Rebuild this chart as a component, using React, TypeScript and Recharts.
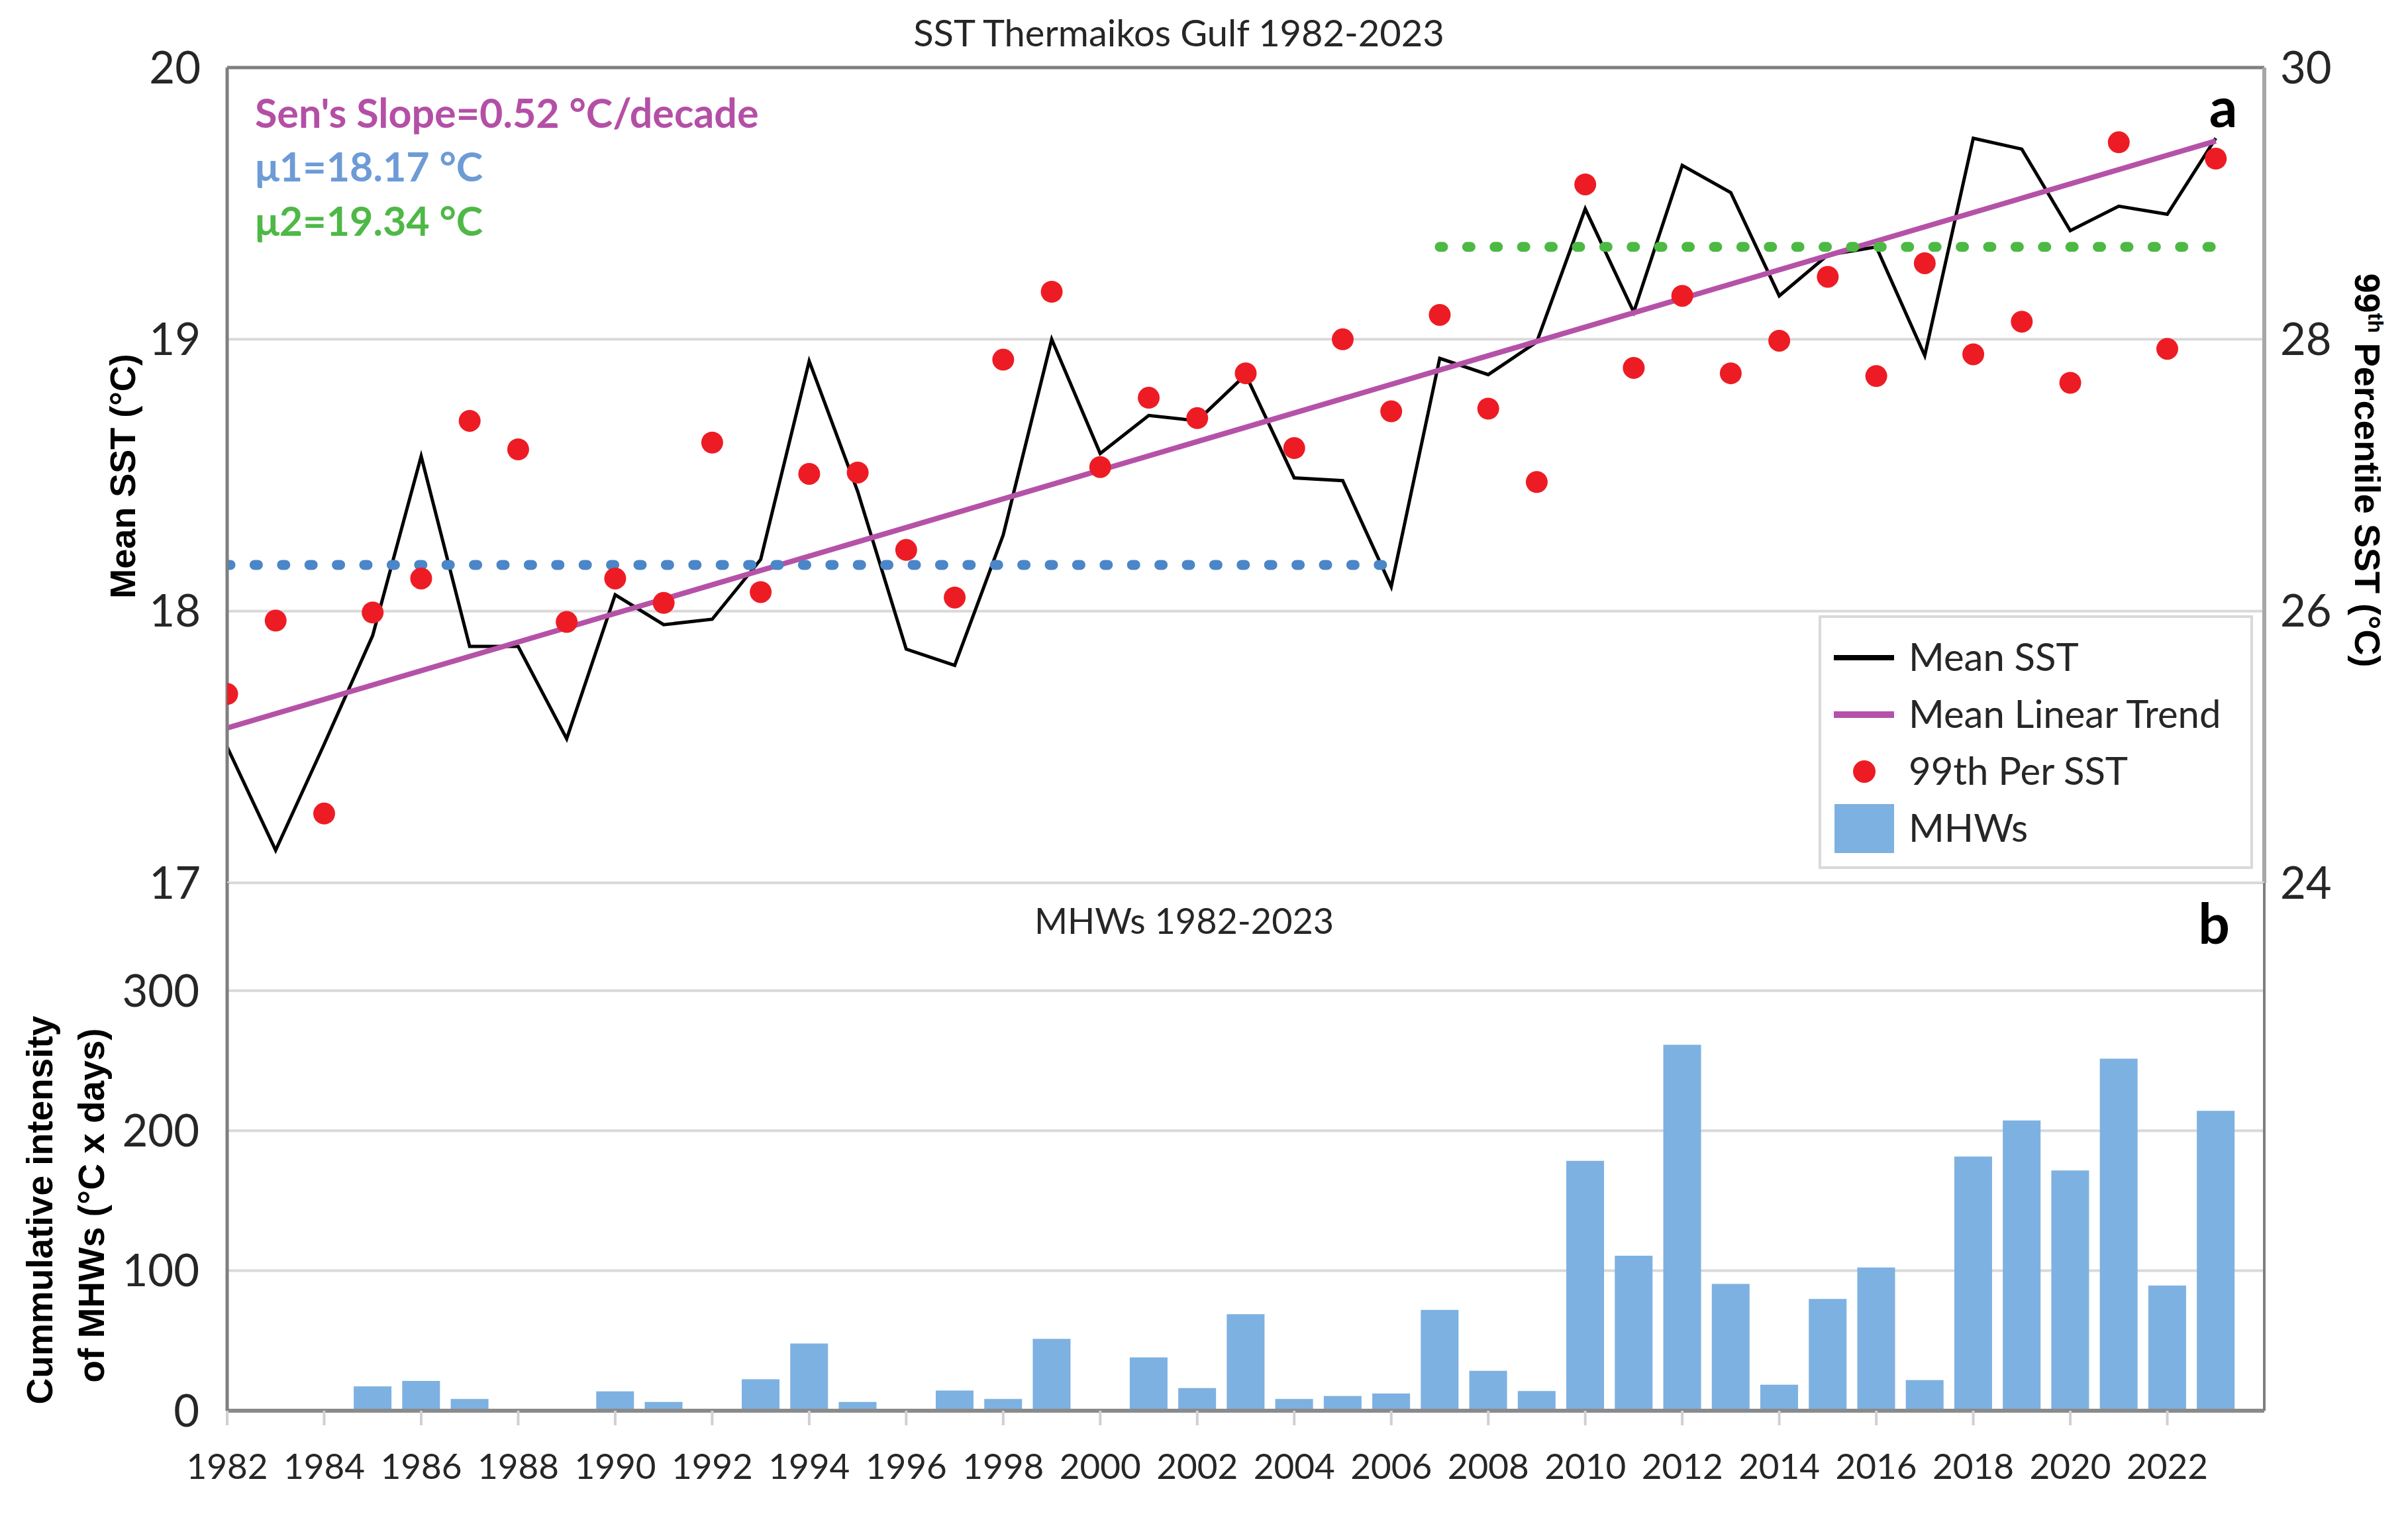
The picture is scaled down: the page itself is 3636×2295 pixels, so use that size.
import React from "react";
import { ComposedChart, Line, Bar, XAxis, YAxis, CartesianGrid, ReferenceLine } from "recharts";

// years on the x axis
const years = [
  1982, 1983, 1984, 1985, 1986, 1987, 1988, 1989, 1990, 1991, 1992, 1993, 1994, 1995,
  1996, 1997, 1998, 1999, 2000, 2001, 2002, 2003, 2004, 2005, 2006, 2007, 2008, 2009,
  2010, 2011, 2012, 2013, 2014, 2015, 2016, 2017, 2018, 2019, 2020, 2021, 2022, 2023,
];

// panel a: mean SST (left axis, °C)
const meanSst = [
  17.5, 17.12, 17.51, 17.91, 18.57, 17.87, 17.87, 17.53, 18.06, 17.95, 17.97, 18.19, 18.92, 18.44,
  17.86, 17.8, 18.28, 19.0, 18.58, 18.72, 18.7, 18.87, 18.49, 18.48, 18.09, 18.93, 18.87, 18.99,
  19.48, 19.1, 19.64, 19.54, 19.16, 19.31, 19.34, 18.94, 19.74, 19.7, 19.4, 19.49, 19.46, 19.74,
];

// panel a: 99th percentile SST (right axis, °C)
const p99Sst = [
  25.39, 25.93, 24.51, 25.99, 26.24, 27.4, 27.19, 25.92, 26.24, 26.06, 27.24, 26.14, 27.01, 27.02,
  26.45, 26.1, 27.85, 28.35, 27.06, 27.57, 27.42, 27.75, 27.2, 28.0, 27.47, 28.18, 27.49, 26.95,
  29.14, 27.79, 28.32, 27.75, 27.99, 28.46, 27.73, 28.56, 27.89, 28.13, 27.68, 29.45, 27.93, 29.33,
];

// panel b: cumulative MHW intensity (°C x days)
const mhwIntensity = [
  0, 0, 0, 17.4, 21.3, 8.4, 0, 0, 13.8, 6.3, 0, 22.5, 48, 6.3,
  0, 14.4, 8.4, 51.3, 0, 38.1, 16.2, 69, 8.4, 10.5, 12.3, 72, 28.5, 14.1,
  178.5, 110.7, 261.3, 90.6, 18.6, 79.8, 102.3, 21.9, 181.5, 207.3, 171.6, 251.4, 89.4, 214.2,
];

// linear trend end points
const trendYears = [1982, 2023];
const trendValues = [17.57, 19.73];

// period means
const mu1Years = [1982, 2006];
const mu1Value = 18.17;
const mu2Years = [2007, 2023];
const mu2Value = 19.34;

// ticks
const gridYears = [1982, 1984, 1986, 1988, 1990, 1992, 1994, 1996, 1998, 2000, 2002, 2004, 2006, 2008, 2010, 2012, 2014, 2016, 2018, 2020, 2022, 2024];
const labelYears = [1982, 1984, 1986, 1988, 1990, 1992, 1994, 1996, 1998, 2000, 2002, 2004, 2006, 2008, 2010, 2012, 2014, 2016, 2018, 2020, 2022];
const meanTicks = [17, 18, 19, 20];
const meanMinorTicks = [17.5, 18.5, 19.5];
const p99Ticks = [24, 26, 28, 30];
const mhwTicks = [0, 100, 200, 300];
const mhwMinorTicks = [50, 150, 250];

const rows = years.map((year, i) => {
  const t = trendYears.indexOf(year);
  return {
    year,
    mean: meanSst[i],
    p99: p99Sst[i],
    mhw: mhwIntensity[i],
    trend: t >= 0 ? trendValues[t] : null,
    mu1: year >= mu1Years[0] && year <= mu1Years[1] ? mu1Value : null,
    mu2: year >= mu2Years[0] && year <= mu2Years[1] ? mu2Value : null,
  };
});

const W = 3636;
const H = 2295;
const PLOT_RIGHT = 3419;
const LEFT_W = 343;
const RIGHT_W = W - PLOT_RIGHT;

const FONT = "Lato, 'Open Sans', sans-serif";
const BOLD_FONT = "'Liberation Sans', Arial, sans-serif";
const TEXT = "#262626";
const tickStyle = { fontSize: 67, fill: TEXT, fontFamily: FONT };

const COLORS = {
  mean: "#000000",
  trend: "#b552a8",
  p99: "#ed1c24",
  mu1: "#4a86c8",
  mu2: "#4cb944",
  mhw: "#7db1e1",
  grid: "#d9d9d9",
};

const Overlay = () => (
  <svg width={W} height={H} style={{ position: "absolute", left: 0, top: 0, pointerEvents: "none" }}>
    <text x={1780} y={50} dy="0.35em" textAnchor="middle" fontSize={56} fill={TEXT} fontFamily={FONT}>
      SST Thermaikos Gulf 1982-2023
    </text>
    <text x={385} y={193} fontSize={61} fontWeight="bold" fill="#b44fa6" fontFamily={FONT}>
      Sen's Slope=0.52 °C/decade
    </text>
    <text x={385} y={274} fontSize={61} fontWeight="bold" fill="#6d9bd6" fontFamily={FONT}>
      μ1=18.17 °C
    </text>
    <text x={385} y={356} fontSize={61} fontWeight="bold" fill="#4fb847" fontFamily={FONT}>
      μ2=19.34 °C
    </text>
    <text x={3357} y={192} textAnchor="middle" fontSize={84} fontWeight="bold" fill="#000" fontFamily={FONT}>
      a
    </text>
    <text x={3343} y={1425} textAnchor="middle" fontSize={84} fontWeight="bold" fill="#000" fontFamily={FONT}>
      b
    </text>
    <text x={1788} y={1391} dy="0.35em" textAnchor="middle" fontSize={54} fill={TEXT} fontFamily={FONT}>
      MHWs 1982-2023
    </text>

    <text
      x={185}
      y={719}
      dy="0.35em"
      textAnchor="middle"
      transform="rotate(-90 185 719)"
      fontSize={54}
      fontWeight="bold"
      fill="#000"
      fontFamily={BOLD_FONT}
    >
      Mean SST (°C)
    </text>
    <text
      x={60}
      y={1827}
      dy="0.35em"
      textAnchor="middle"
      transform="rotate(-90 60 1827)"
      fontSize={55}
      fontWeight="bold"
      fill="#000"
      fontFamily={BOLD_FONT}
    >
      Cummulative intensity
    </text>
    <text
      x={138}
      y={1820}
      dy="0.35em"
      textAnchor="middle"
      transform="rotate(-90 138 1820)"
      fontSize={55}
      fontWeight="bold"
      fill="#000"
      fontFamily={BOLD_FONT}
    >
      of MHWs (°C x days)
    </text>
    <text
      x={3575}
      y={710}
      dy="0.35em"
      textAnchor="middle"
      transform="rotate(90 3575 710)"
      fontSize={54}
      fontWeight="bold"
      fill="#000"
      fontFamily={BOLD_FONT}
    >
      99<tspan fontSize={32} dy={-20}>th</tspan>
      <tspan dy={20}> Percentile SST (°C)</tspan>
    </text>

    {/* legend */}
    <rect x={2748} y={931} width={652} height={379} fill="#fff" stroke="#d9d9d9" strokeWidth={4} />
    <line x1={2769} x2={2860} y1={993} y2={993} stroke={COLORS.mean} strokeWidth={8} />
    <line x1={2769} x2={2860} y1={1079} y2={1079} stroke={COLORS.trend} strokeWidth={10} />
    <circle cx={2815} cy={1165} r={17} fill={COLORS.p99} />
    <rect x={2770} y={1214} width={90} height={74} fill={COLORS.mhw} />
    {["Mean SST", "Mean Linear Trend", "99th Per SST", "MHWs"].map((label, i) => (
      <text key={label} x={2882} y={993 + i * 86} dy="0.35em" fontSize={58} fill={TEXT} fontFamily={FONT}>
        {label}
      </text>
    ))}
  </svg>
);

export default function App() {
  return (
    <div
      style={{
        position: "absolute",
        left: 0,
        top: 0,
        width: W,
        height: H,
        background: "#fff",
        overflow: "hidden",
        fontFamily: FONT,
      }}
    >
      {/* panel a */}
      <div style={{ position: "absolute", left: 0, top: 0 }}>
        <ComposedChart width={W} height={1400} data={rows} margin={{ top: 102, right: 0, bottom: 67, left: 0 }}>
          <CartesianGrid yAxisId="l" stroke={COLORS.grid} strokeWidth={4} />
          <XAxis
            dataKey="year"
            type="number"
            domain={[1982, 2024]}
            ticks={gridYears}
            interval={0}
            allowDataOverflow
            height={0}
            tick={false}
            axisLine={false}
            tickLine={false}
          />
          <YAxis
            yAxisId="l"
            domain={[17, 20]}
            ticks={meanTicks}
            interval={0}
            allowDataOverflow
            width={LEFT_W}
            axisLine={{ stroke: "#7f7f7f", strokeWidth: 5 }}
            tickLine={false}
            tickSize={0}
            tickMargin={40}
            tick={tickStyle}
          />
          <YAxis
            yAxisId="lm"
            mirror
            width={0}
            domain={[17, 20]}
            ticks={meanMinorTicks}
            interval={0}
            tick={false}
            axisLine={false}
            tickLine={{ stroke: "#bfbfbf", strokeWidth: 3 }}
            tickSize={13}
          />
          <YAxis
            yAxisId="r"
            orientation="right"
            domain={[24, 30]}
            ticks={p99Ticks}
            interval={0}
            allowDataOverflow
            width={RIGHT_W}
            axisLine={{ stroke: "#a6a6a6", strokeWidth: 6 }}
            tickLine={false}
            tickSize={0}
            tickMargin={24}
            tick={tickStyle}
          />
          <ReferenceLine yAxisId="l" y={20} stroke="#7f7f7f" strokeWidth={5} />
          <Line
            yAxisId="l"
            type="linear"
            dataKey="mean"
            stroke={COLORS.mean}
            strokeWidth={5}
            dot={false}
            activeDot={false}
            isAnimationActive={false}
          />
          <Line
            yAxisId="r"
            type="linear"
            dataKey="p99"
            stroke="none"
            strokeWidth={0}
            dot={{ r: 16.5, fill: COLORS.p99, stroke: "none", strokeWidth: 0 }}
            activeDot={false}
            isAnimationActive={false}
          />
          <Line
            yAxisId="l"
            type="linear"
            dataKey="trend"
            stroke={COLORS.trend}
            strokeWidth={8}
            connectNulls
            dot={false}
            activeDot={false}
            isAnimationActive={false}
          />
          <Line
            yAxisId="l"
            type="linear"
            dataKey="mu1"
            stroke={COLORS.mu1}
            strokeWidth={15}
            strokeDasharray="5 36.4"
            strokeLinecap="round"
            dot={false}
            activeDot={false}
            isAnimationActive={false}
          />
          <Line
            yAxisId="l"
            type="linear"
            dataKey="mu2"
            stroke={COLORS.mu2}
            strokeWidth={15}
            strokeDasharray="5 36.4"
            strokeLinecap="round"
            dot={false}
            activeDot={false}
            isAnimationActive={false}
          />
        </ComposedChart>
      </div>

      {/* panel b */}
      <div style={{ position: "absolute", left: 0, top: 1300 }}>
        <ComposedChart width={W} height={995} data={rows} margin={{ top: 33, right: 0, bottom: 0, left: 0 }}>
          <CartesianGrid yAxisId="b" vertical={false} stroke={COLORS.grid} strokeWidth={4} />
          <XAxis
            dataKey="year"
            type="number"
            domain={[1982, 2024]}
            ticks={labelYears}
            interval={0}
            allowDataOverflow
            height={165}
            axisLine={{ stroke: "#8a8a8a", strokeWidth: 6 }}
            tickLine={{ stroke: "#d0d0d0", strokeWidth: 4 }}
            tickSize={22}
            tickMargin={43}
            tick={{ fontSize: 53, fill: TEXT, fontFamily: FONT }}
          />
          <YAxis
            yAxisId="b"
            domain={[0, 377]}
            ticks={mhwTicks}
            interval={0}
            allowDataOverflow
            width={LEFT_W}
            axisLine={{ stroke: "#7f7f7f", strokeWidth: 5 }}
            tickLine={false}
            tickSize={0}
            tickMargin={42}
            tick={tickStyle}
          />
          <YAxis
            yAxisId="bm"
            mirror
            width={0}
            domain={[0, 377]}
            ticks={mhwMinorTicks}
            interval={0}
            tick={false}
            axisLine={false}
            tickLine={{ stroke: "#bfbfbf", strokeWidth: 3 }}
            tickSize={13}
          />
          <YAxis
            yAxisId="br"
            orientation="right"
            domain={[0, 377]}
            width={RIGHT_W}
            tick={false}
            tickLine={false}
            axisLine={{ stroke: "#7f7f7f", strokeWidth: 4 }}
          />
          <Bar yAxisId="b" dataKey="mhw" fill={COLORS.mhw} barSize={57} isAnimationActive={false} />
        </ComposedChart>
      </div>

      <Overlay />
    </div>
  );
}
